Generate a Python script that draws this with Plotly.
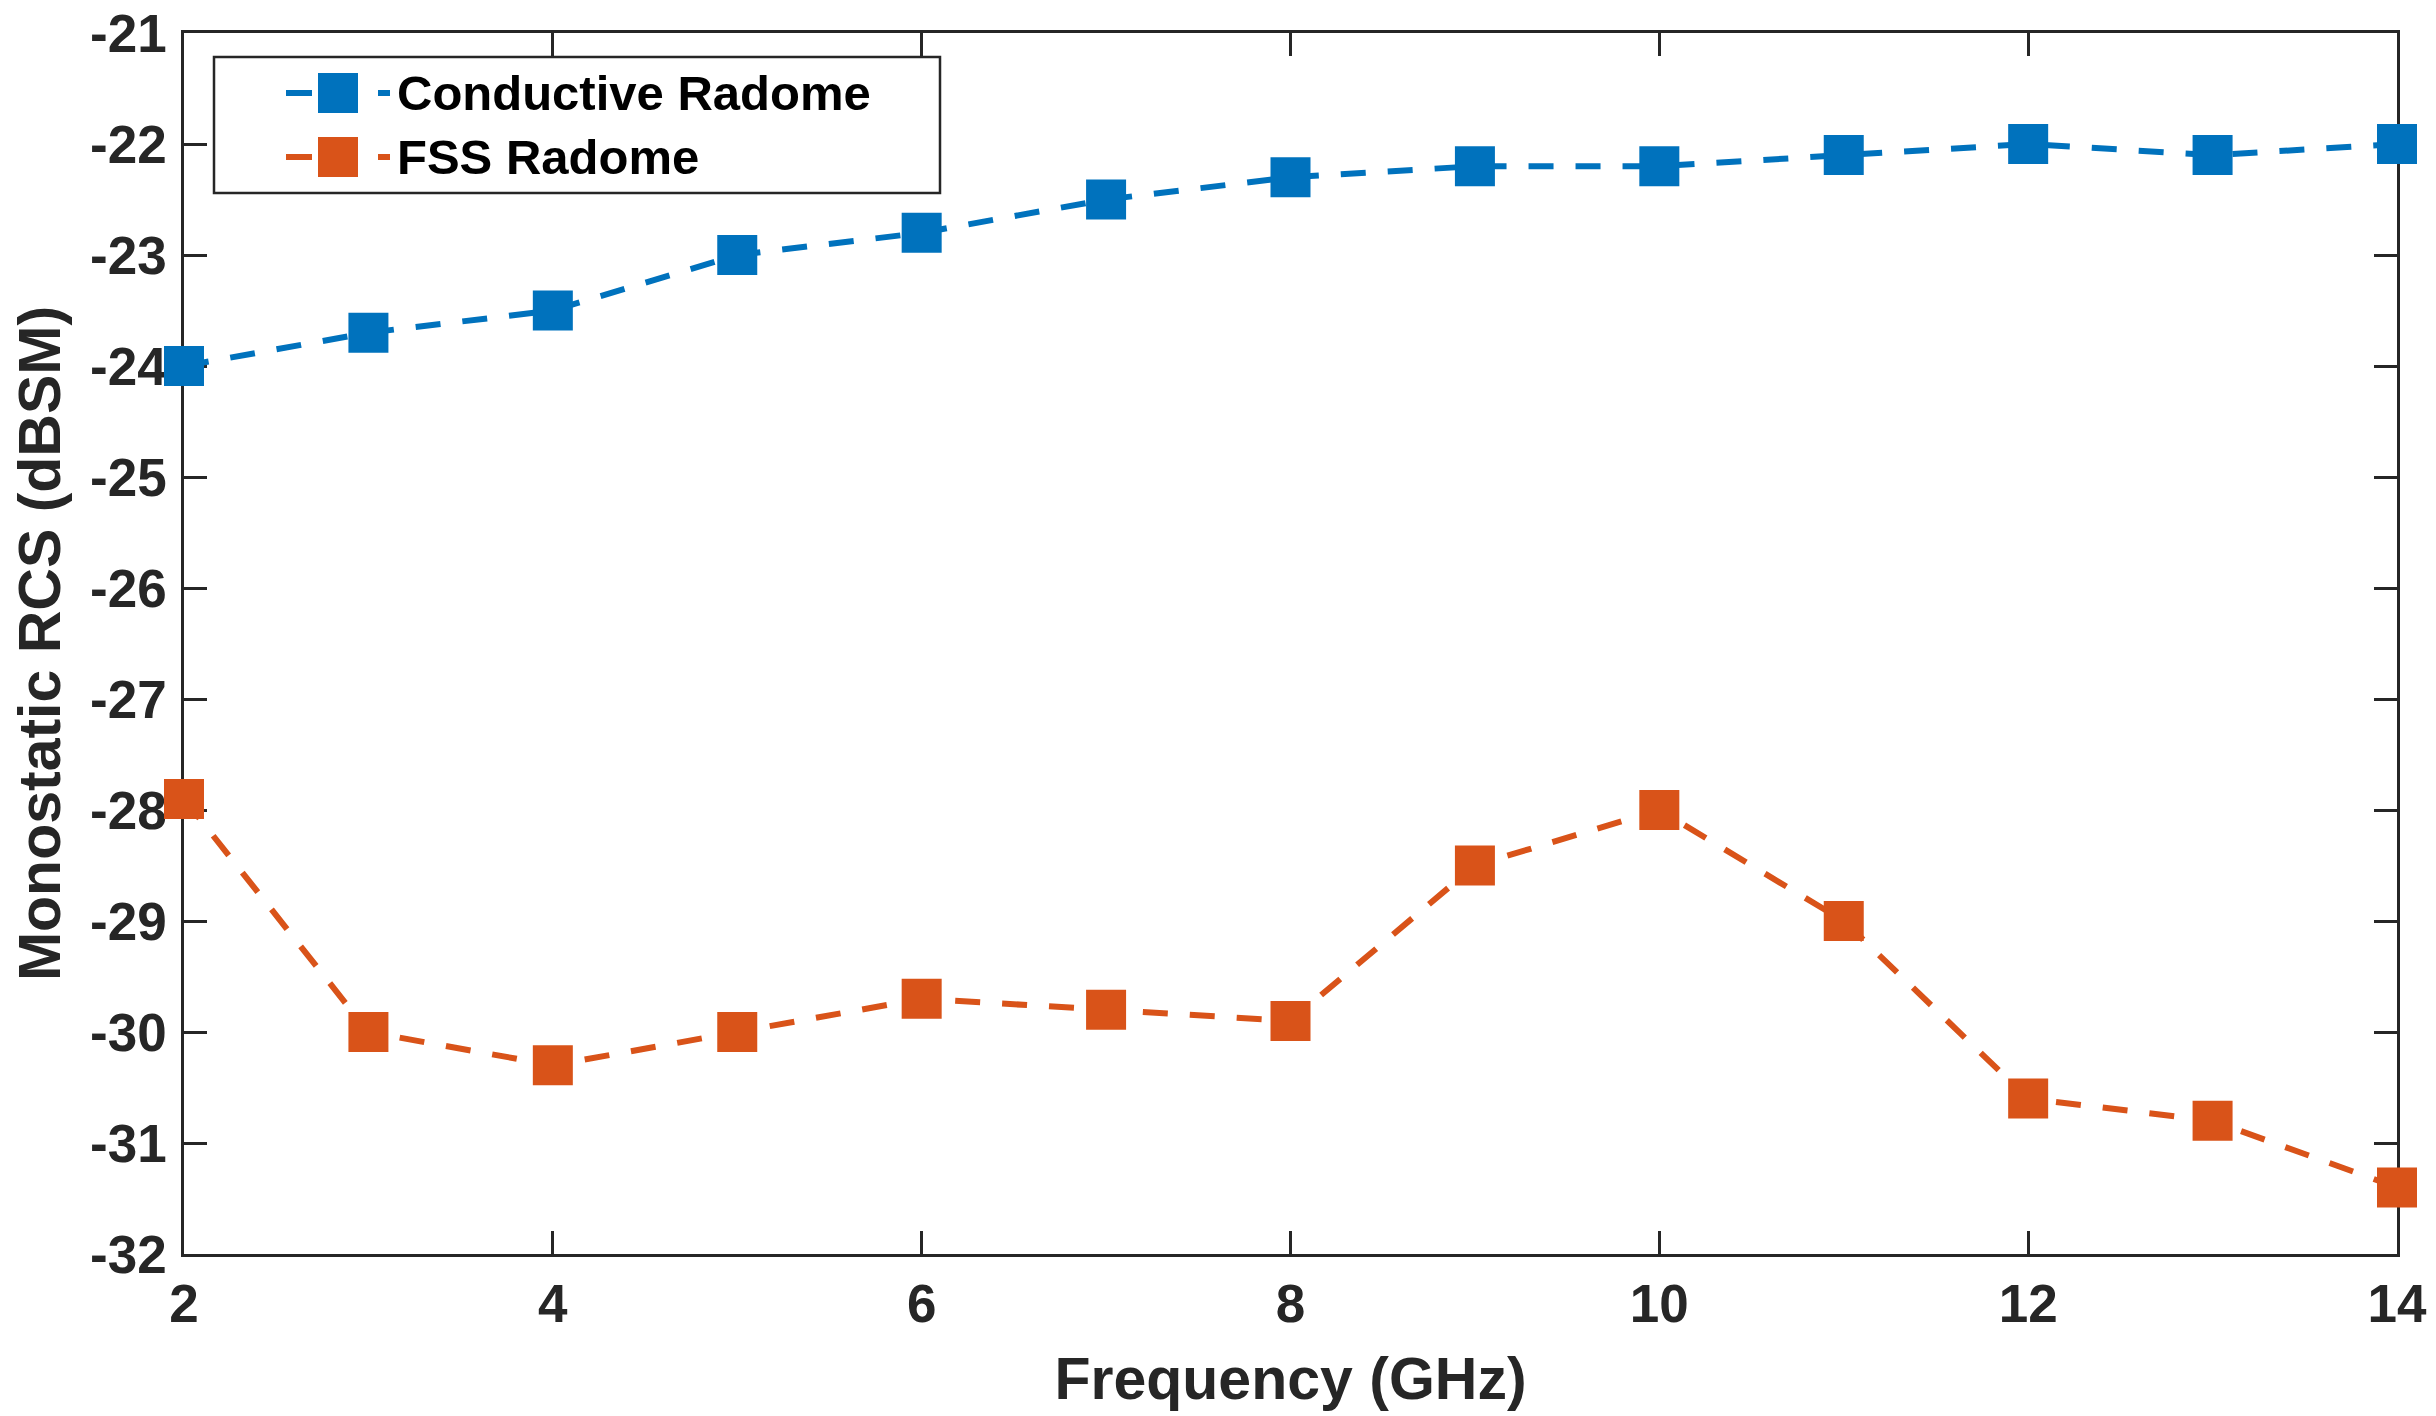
import plotly.graph_objects as go

# ---- data ----
freq_ghz = [2, 3, 4, 5, 6, 7, 8, 9, 10, 11, 12, 13, 14]
conductive_radome = [-24.0, -23.7, -23.5, -23.0, -22.8, -22.5, -22.3, -22.2, -22.2, -22.1, -22.0, -22.1, -22.0]
fss_radome = [-27.9, -30.0, -30.3, -30.0, -29.7, -29.8, -29.9, -28.5, -28.0, -29.0, -30.6, -30.8, -31.4]
series_names = ["Conductive Radome", "FSS Radome"]
x_tick_vals = [2, 4, 6, 8, 10, 12, 14]
y_tick_vals = [-32, -31, -30, -29, -28, -27, -26, -25, -24, -23, -22, -21]
y_tick_text = ["-32", "-31", "-30", "-29", "-28", "-27", "-26", "-25", "-24", "-23", "-22", "-21"]

# ---- style ----
W, H = 2436, 1416
L, R, T, B = 184, 2397, 33, 1254   # plot-area edges in pixels
BLUE = "#0072BD"
ORANGE = "#D95319"
AX = "#262626"
FONT = "Liberation Sans, Arial, sans-serif"
DASH = "25px,22px"
colors = [BLUE, ORANGE]


def px(x):
    return (x - L) / (R - L)


def py(y):
    return (B - y) / (B - T)


fig = go.Figure()
for name, vals, col in zip(series_names, [conductive_radome, fss_radome], colors):
    fig.add_trace(go.Scatter(
        x=freq_ghz, y=vals, name=name, mode="lines+markers",
        line=dict(color=col, width=6, dash=DASH),
        marker=dict(symbol="square", size=40, color=col, line=dict(width=0)),
        cliponaxis=False, showlegend=False,
    ))

axis_common = dict(
    showline=True, linecolor=AX, linewidth=2.5, mirror="ticks",
    ticks="inside", ticklen=23, tickwidth=2.5, tickcolor=AX,
    showgrid=False, zeroline=False, layer="below traces",
    ticklabeloverflow="allow",
    tickfont=dict(family=FONT, size=53, color=AX, weight="bold"),
)

fig.update_xaxes(
    range=[2, 14], tickvals=x_tick_vals, ticklabelstandoff=2,
    title=dict(text="Frequency (GHz)", standoff=26,
               font=dict(family=FONT, size=59, color=AX, weight="bold")),
    **axis_common,
)
fig.update_yaxes(
    range=[-32, -21], tickvals=y_tick_vals, ticktext=y_tick_text, ticklabelstandoff=4,
    title=dict(text="Monostatic RCS (dBSM)", standoff=11,
               font=dict(family=FONT, size=59, color=AX, weight="bold")),
    **axis_common,
)

# ---- custom legend (box, samples, labels) ----
shapes = [dict(type="rect", xref="paper", yref="paper",
               x0=px(214), x1=px(940), y0=py(193), y1=py(57),
               fillcolor="white", line=dict(color=AX, width=2.5), layer="above")]
annotations = []
row_y = [93, 157]
for name, col, yy in zip(series_names, colors, row_y):
    shapes.append(dict(type="line", xref="paper", yref="paper",
                       x0=px(286), x1=px(390), y0=py(yy), y1=py(yy),
                       line=dict(color=col, width=6, dash="26px,20px"), layer="above"))
    shapes.append(dict(type="rect", xref="paper", yref="paper",
                       x0=px(318), x1=px(358), y0=py(yy + 20), y1=py(yy - 20),
                       fillcolor=col, line=dict(width=0), layer="above"))
    annotations.append(dict(xref="paper", yref="paper", x=px(395), y=py(yy),
                            xanchor="left", yanchor="middle", showarrow=False,
                            text=name, font=dict(family=FONT, size=49, color="black", weight="bold")))

fig.update_layout(
    width=W, height=H,
    margin=dict(l=L, r=W - R, t=T, b=H - B, autoexpand=False),
    paper_bgcolor="white", plot_bgcolor="white",
    shapes=shapes, annotations=annotations, showlegend=False,
)

# remove the default page margin so the figure fills the window exactly
fig.write_html("out.html",
               config={"displayModeBar": False},
               post_script="document.body.style.margin='0';document.body.style.overflow='hidden';")
